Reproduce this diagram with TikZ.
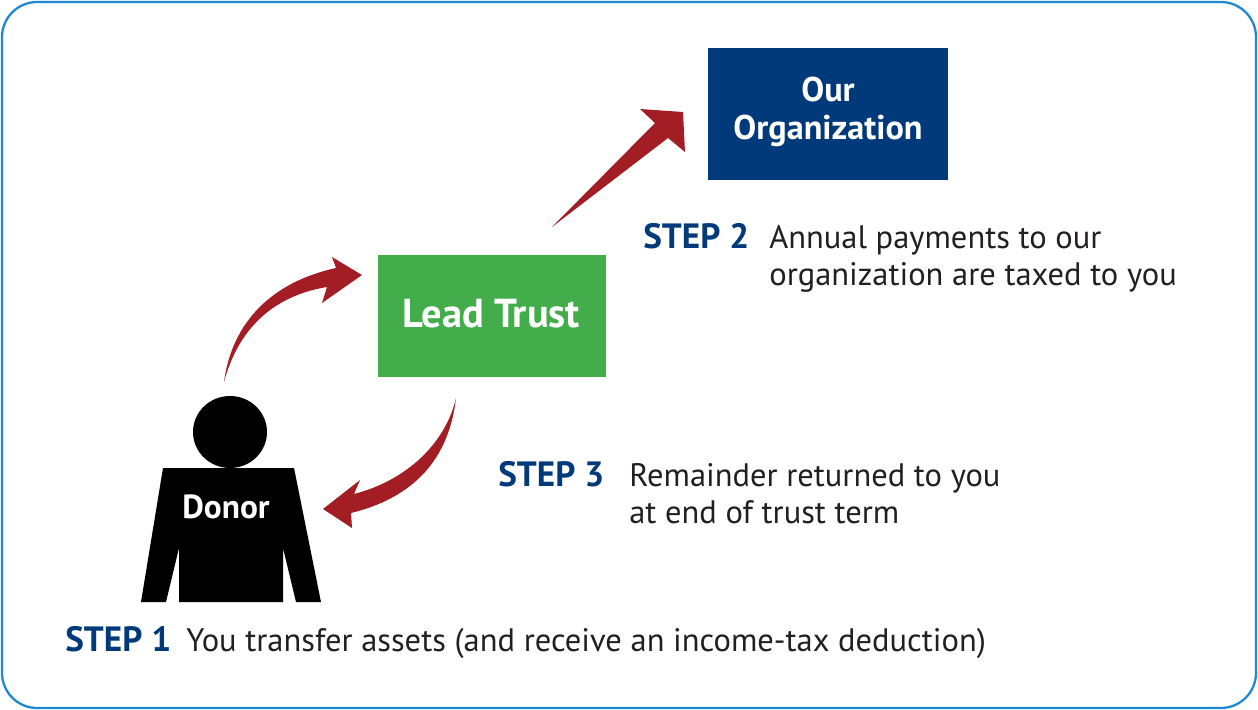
\documentclass[tikz,border=0pt]{standalone}
\usepackage{fontspec}
\setmainfont{PT Sans}
\usetikzlibrary{positioning}
\definecolor{frameblue}{RGB}{30,136,208}
\definecolor{orgblue}{RGB}{0,58,122}
\definecolor{trustgreen}{RGB}{66,173,74}
\definecolor{swooshred}{RGB}{163,29,36}
\definecolor{bodytext}{RGB}{35,31,32}
\tikzset{
	box/.style={draw=none, text=white, font=\bfseries, align=center, inner sep=0pt},
	steplabel/.style={anchor=base west, text=orgblue, font=\fontsize{20}{22}\selectfont\bfseries, inner sep=0pt},
	say/.style={anchor=base west, text=bodytext, font=\fontsize{18.5}{21}\selectfont, align=left, inner sep=0pt},
	swoosh/.style={fill=swooshred, draw=none}
}
\begin{document}
\begin{tikzpicture}[x=0.02cm, y=-0.02cm]
	% frame
	\useasboundingbox (0,0) rectangle (1258,710);
	\draw[frameblue, line width=1.3pt, rounded corners=20pt] (2,2) rectangle (1256,708);

	% boxes
	\fill[orgblue] (708,48) rectangle (948,180);
	\node[box, font=\fontsize{19.5}{21.5}\selectfont\bfseries] (org) at (828,112) {Our\\Organization};
	\fill[trustgreen] (378,255) rectangle (606,377);
	\node[box, font=\fontsize{23}{25}\selectfont\bfseries] (trust) at (491,314) {Lead Trust};

	% donor
	\fill[black] (230,432) ellipse (37 and 36);
	\fill[black] (163,468) -- (294,468) -- (321,602) -- (296,602) -- (283,548) -- (283,602)
		-- (179,602) -- (179,548) -- (166,602) -- (141,602) -- cycle;
	\node[box, font=\fontsize{19}{21}\selectfont\bfseries] (donor) at (226,507) {Donor};

	% swooshes
	\fill[swoosh] (224,382) .. controls (232,322) and (272,282) .. (336,268)
		-- (332,257) -- (362,275) -- (322,303) -- (327,287)
		.. controls (272,296) and (238,330) .. cycle;
	\fill[swoosh] (456,398) .. controls (448,468) and (404,500) .. (351,513)
		-- (352,528) -- (323,509) -- (360,480) -- (354,494)
		.. controls (408,480) and (446,442) .. cycle;
	\fill[swoosh] (552,227) -- (655,123) -- (640,109) -- (683,112) -- (685,152) -- (668,138) -- cycle;

	% steps
	\node[steplabel] (s2) at (643,248) {STEP 2};
	\node[say] (t2) at (769,285) {Annual payments to our\\organization are taxed to you};
	\node[steplabel] (s3) at (498,486) {STEP 3};
	\node[say] (t3) at (629,523) {Remainder returned to you\\at end of trust term};
	\node[steplabel] (s1) at (65,651) {STEP 1};
	\node[say] (t1) at (186,651) {You transfer assets (and receive an income-tax deduction)};
\end{tikzpicture}
\end{document}
